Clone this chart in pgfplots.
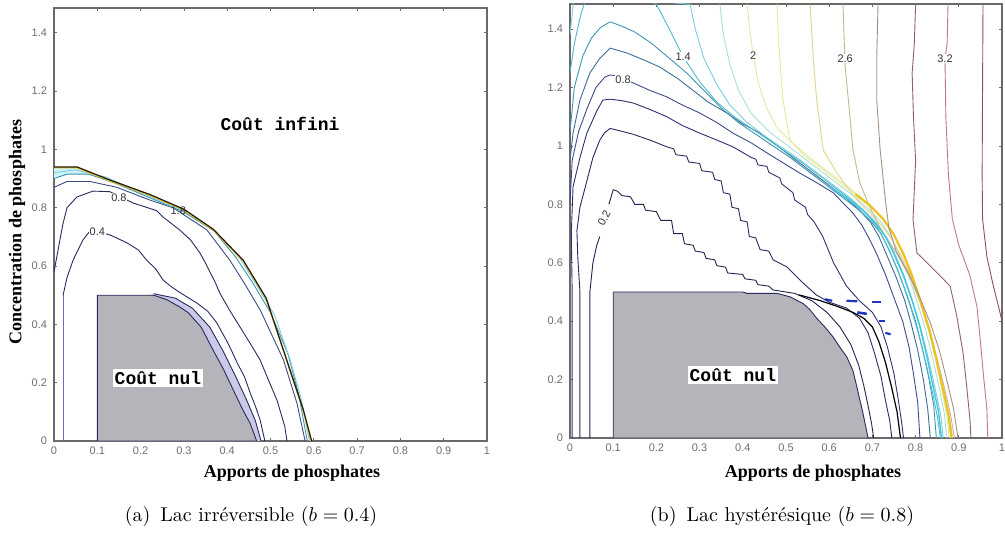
\documentclass[border=0pt]{standalone}
\usepackage{fontspec}
\usepackage{pgfplots}
\pgfplotsset{compat=1.18}
\newfontfamily\tickfont{Liberation Sans}
\newfontfamily\lblfont{Liberation Serif}
\newfontfamily\cfont{Liberation Mono}
\definecolor{axgray}{HTML}{6A6A6A}
\definecolor{tickgray}{HTML}{6E6E6E}
\definecolor{nulgray}{HTML}{B4B4BA}
\definecolor{lav}{HTML}{CACAE8}
\definecolor{peri}{HTML}{6A6AC8}
\definecolor{c02}{HTML}{22224E}
\definecolor{c04}{HTML}{2A2A5E}
\definecolor{c06}{HTML}{30306E}
\definecolor{c08}{HTML}{3A4C86}
\definecolor{c10}{HTML}{3C6C94}
\definecolor{c12}{HTML}{3C96B0}
\definecolor{c14}{HTML}{50B8CC}
\definecolor{c16}{HTML}{78D0DC}
\definecolor{c18}{HTML}{A8E0D8}
\definecolor{c20}{HTML}{D8ECA0}
\definecolor{c22}{HTML}{ECE890}
\definecolor{c24}{HTML}{E4D488}
\definecolor{c26}{HTML}{C8B494}
\definecolor{c28}{HTML}{A89080}
\definecolor{c30}{HTML}{8C6464}
\definecolor{c32}{HTML}{C07888}
\definecolor{c34}{HTML}{905058}
\definecolor{bandY}{HTML}{EEC020}
\definecolor{bandC}{HTML}{40C8E0}
\definecolor{jblue}{HTML}{2038C0}
\tikzset{clab/.style={font=\tickfont\fontsize{5.5}{6}\selectfont, text=black!80, fill=white, inner sep=0.3pt}}
\pgfplotsset{
  panel/.style={
    scale only axis,
    xmin=0, xmax=1, ymin=0,
    xtick={0,0.1,0.2,0.3,0.4,0.5,0.6,0.7,0.8,0.9,1},
    xticklabels={0,0.1,0.2,0.3,0.4,0.5,0.6,0.7,0.8,0.9,1},
    ytick={0,0.2,0.4,0.6,0.8,1,1.2,1.4},
    yticklabels={0,0.2,0.4,0.6,0.8,1,1.2,1.4},
    tick align=inside, xtick pos=both, ytick pos=both,
    major tick length=1.5pt,
    tick style={axgray, line width=0.4pt},
    axis line style={draw=axgray, line width=0.6pt},
    tick label style={font=\tickfont\fontsize{5.5}{6}\selectfont, text=tickgray},
    xticklabel style={yshift=0.5pt},
    clip mode=individual,
    every axis plot/.append style={line width=0.45pt, mark=none},
  },
}
\begin{document}
\begin{tikzpicture}
\useasboundingbox (0,0) rectangle (502.5pt,267pt);
% ================= LEFT PANEL =================
\begin{axis}[panel, at={(27pt,46.5pt)}, anchor=south west,
  width=216.5pt, height=216.5pt, ymax=1.485]
\addplot[fill=lav, draw=none] coordinates {(0.22,0.5)(0.23,0.505)(0.28,0.49)(0.32,0.455)(0.36,0.39)(0.39,0.31)(0.42,0.22)(0.445,0.14)(0.465,0.07)(0.478,0)(0.468,0)(0.453,0.06)(0.435,0.11)(0.414,0.175)(0.39,0.25)(0.368,0.31)(0.34,0.39)(0.31,0.44)(0.29,0.46)(0.26,0.485)(0.23,0.5)} -- cycle;
\addplot[c04] coordinates {(0.23,0.505)(0.28,0.49)(0.32,0.455)(0.36,0.39)(0.39,0.31)(0.42,0.22)(0.445,0.14)(0.465,0.07)(0.478,0)};
\addplot[fill=nulgray, draw=c04] coordinates {(0.1,0)(0.1,0.5)(0.23,0.5)(0.26,0.485)(0.29,0.46)(0.31,0.44)(0.34,0.39)(0.368,0.31)(0.39,0.25)(0.414,0.175)(0.435,0.11)(0.453,0.06)(0.468,0)} -- cycle;
\addplot[peri] coordinates {(0.021,0)(0.021,0.5)};
\addplot[c04] coordinates {(0.021,0.5)(0.03,0.56)(0.044,0.62)(0.067,0.69)(0.083,0.72)(0.105,0.715)(0.129,0.707)(0.168,0.68)(0.195,0.655)(0.214,0.62)(0.235,0.59)(0.252,0.552)(0.27,0.53)(0.29,0.51)(0.33,0.473)(0.355,0.445)(0.376,0.405)(0.40,0.34)(0.41,0.31)(0.423,0.268)(0.44,0.22)(0.453,0.165)(0.465,0.12)(0.476,0.072)(0.487,0)};
\addplot[c04] coordinates {(0,0.58)(0.01,0.66)(0.02,0.74)(0.03,0.80)(0.053,0.837)(0.09,0.857)(0.129,0.855)(0.183,0.816)(0.237,0.79)(0.252,0.768)(0.29,0.724)(0.315,0.69)(0.337,0.645)(0.35,0.61)(0.36,0.58)(0.372,0.545)(0.383,0.507)(0.405,0.45)(0.43,0.39)(0.455,0.33)(0.476,0.278)(0.495,0.21)(0.515,0.14)(0.533,0.05)(0.538,0)};
\addplot[c08] coordinates {(0,0.87)(0.03,0.89)(0.083,0.89)(0.145,0.87)(0.222,0.826)(0.275,0.80)(0.353,0.724)(0.406,0.62)(0.44,0.54)(0.476,0.45)(0.53,0.278)(0.561,0.13)(0.58,0)};
\addplot[fill=bandC!25, draw=none] coordinates {(0,0.94)(0.053,0.94)(0.129,0.895)(0.222,0.845)(0.30,0.795)(0.30,0.785)(0.22,0.835)(0.14,0.885)(0.08,0.915)(0.03,0.915)(0,0.90)} -- cycle;
\addplot[c12] coordinates {(0,0.90)(0.03,0.915)(0.08,0.915)(0.14,0.885)(0.22,0.835)(0.30,0.785)(0.37,0.72)(0.42,0.63)(0.46,0.54)(0.50,0.44)(0.54,0.30)(0.565,0.16)(0.585,0)};
\addplot[c16] coordinates {(0,0.92)(0.05,0.93)(0.12,0.905)(0.22,0.84)(0.30,0.79)(0.37,0.722)(0.43,0.625)(0.47,0.53)(0.51,0.43)(0.545,0.28)(0.57,0.15)(0.59,0)};
\addplot[bandY, line width=0.6pt] coordinates {(0,0.937)(0.053,0.937)(0.129,0.892)(0.222,0.842)(0.30,0.792)(0.368,0.723)(0.437,0.617)(0.49,0.487)(0.545,0.241)(0.576,0.103)(0.593,0)};
\addplot[black!80!brown, line width=0.6pt] coordinates {(0,0.94)(0.053,0.94)(0.129,0.895)(0.222,0.845)(0.30,0.795)(0.368,0.726)(0.437,0.62)(0.49,0.49)(0.545,0.244)(0.576,0.106)(0.595,0)};
\node[clab] at (axis cs:0.10,0.717) {0.4};
\node[clab] at (axis cs:0.15,0.835) {0.8};
\node[clab, fill=none] at (axis cs:0.287,0.79) {1.8};
\node[font=\cfont\bfseries\fontsize{9}{10}\selectfont] at (axis cs:0.522,1.087) {Coût infini};
\node[font=\cfont\bfseries\fontsize{9}{10}\selectfont, fill=white, inner sep=1pt] at (axis cs:0.24,0.216) {Coût nul};
\end{axis}
% ================= RIGHT PANEL =================
\begin{axis}[panel, at={(285pt,48pt)}, anchor=south west,
  width=216pt, height=217pt, ymax=1.486]
\addplot[fill=nulgray, draw=c04] coordinates {(0.1,0)(0.1,0.5)(0.40,0.5)(0.41,0.495)(0.48,0.495)(0.51,0.483)(0.54,0.46)(0.555,0.44)(0.571,0.41)(0.59,0.38)(0.609,0.346)(0.625,0.31)(0.641,0.277)(0.655,0.23)(0.664,0.175)(0.671,0.13)(0.678,0.086)(0.683,0.05)(0.69,0)} -- cycle;
\addplot[c02] coordinates {(0.046,0)(0.046,0.5)(0.053,0.60)(0.062,0.66)(0.069,0.69)};
\addplot[c02] coordinates {(0.09,0.80)(0.1,0.85)(0.11,0.845)(0.12,0.83)(0.14,0.826)(0.15,0.80)(0.17,0.80)(0.175,0.78)(0.2,0.775)(0.21,0.745)(0.235,0.745)(0.24,0.70)(0.26,0.70)(0.265,0.665)(0.285,0.66)(0.29,0.64)(0.31,0.635)(0.315,0.615)(0.335,0.61)(0.34,0.59)(0.36,0.585)(0.365,0.565)(0.4,0.56)(0.405,0.545)(0.43,0.54)(0.435,0.525)(0.46,0.52)(0.47,0.507)(0.52,0.495)(0.56,0.47)(0.595,0.43)(0.625,0.38)(0.65,0.32)(0.668,0.25)(0.68,0.18)(0.69,0.11)(0.698,0.05)(0.703,0)};
\addplot[c04] coordinates {(0.023,0)(0.023,0.5)(0.018,0.62)(0.016,0.71)(0.023,0.79)(0.039,0.88)(0.053,0.96)(0.069,1.02)(0.08,1.045)(0.093,1.06)(0.12,1.05)(0.146,1.04)(0.185,1.02)(0.224,0.997)(0.24,0.99)(0.245,0.97)(0.27,0.965)(0.275,0.945)(0.3,0.94)(0.305,0.915)(0.33,0.91)(0.335,0.885)(0.35,0.88)(0.355,0.84)(0.37,0.835)(0.375,0.79)(0.39,0.785)(0.395,0.745)(0.41,0.74)(0.415,0.69)(0.43,0.685)(0.44,0.645)(0.46,0.64)(0.47,0.61)(0.502,0.586)(0.54,0.53)(0.57,0.49)(0.60,0.465)(0.64,0.445)(0.67,0.41)(0.69,0.36)(0.705,0.29)(0.72,0.21)(0.73,0.13)(0.74,0.06)(0.745,0)};
\addplot[c06] coordinates {(0.005,0)(0.005,0.5)(0.003,0.70)(0.007,0.86)(0.023,0.96)(0.039,1.044)(0.062,1.12)(0.076,1.157)(0.093,1.16)(0.12,1.155)(0.146,1.147)(0.185,1.125)(0.224,1.10)(0.26,1.07)(0.30,1.044)(0.34,1.02)(0.377,0.997)(0.42,0.96)(0.43,0.955)(0.435,0.935)(0.456,0.93)(0.46,0.91)(0.486,0.89)(0.49,0.87)(0.516,0.84)(0.52,0.815)(0.545,0.79)(0.55,0.765)(0.565,0.74)(0.585,0.69)(0.61,0.60)(0.64,0.52)(0.67,0.47)(0.70,0.43)(0.72,0.38)(0.735,0.31)(0.75,0.22)(0.76,0.13)(0.768,0.05)(0.772,0)};
\addplot[black, line width=0.6pt] coordinates {(0.53,0.49)(0.58,0.47)(0.62,0.45)(0.655,0.43)(0.68,0.41)(0.70,0.38)(0.715,0.33)(0.73,0.26)(0.745,0.17)(0.757,0.09)(0.765,0)};
\addplot[jblue, line width=1.1pt] coordinates {(0.59,0.475)(0.607,0.47)};
\addplot[jblue, line width=1.1pt] coordinates {(0.64,0.47)(0.665,0.468)};
\addplot[jblue, line width=1.1pt] coordinates {(0.70,0.465)(0.72,0.465)};
\addplot[jblue, line width=1.3pt] coordinates {(0.665,0.43)(0.687,0.425)};
\addplot[jblue, line width=1.1pt] coordinates {(0.715,0.40)(0.73,0.40)};
\addplot[jblue, line width=1.1pt] coordinates {(0.73,0.36)(0.742,0.355)};
\addplot[c08] coordinates {(0,0.80)(0.005,0.95)(0.02,1.05)(0.04,1.13)(0.06,1.2)(0.08,1.235)(0.093,1.243)(0.11,1.24)(0.146,1.216)(0.185,1.19)(0.224,1.168)(0.26,1.14)(0.30,1.113)(0.34,1.08)(0.377,1.044)(0.42,1.01)(0.456,0.976)(0.49,0.945)(0.532,0.907)(0.57,0.875)(0.609,0.84)(0.635,0.80)(0.655,0.77)(0.675,0.73)(0.69,0.69)(0.71,0.63)(0.73,0.56)(0.75,0.48)(0.77,0.40)(0.785,0.31)(0.795,0.22)(0.805,0.12)(0.81,0)};
\addplot[c10] coordinates {(0,0.95)(0.007,1.044)(0.023,1.157)(0.046,1.25)(0.069,1.30)(0.093,1.335)(0.132,1.318)(0.17,1.295)(0.208,1.27)(0.25,1.23)(0.285,1.19)(0.32,1.15)(0.363,1.113)(0.40,1.075)(0.44,1.044)(0.48,1.0)(0.52,0.955)(0.56,0.91)(0.60,0.865)(0.64,0.82)(0.67,0.78)(0.695,0.74)(0.715,0.69)(0.735,0.62)(0.755,0.55)(0.775,0.47)(0.79,0.39)(0.805,0.30)(0.818,0.2)(0.828,0.1)(0.834,0)};
\addplot[c12] coordinates {(0,1.05)(0.01,1.20)(0.03,1.31)(0.05,1.37)(0.07,1.405)(0.093,1.425)(0.12,1.41)(0.15,1.39)(0.19,1.35)(0.23,1.30)(0.27,1.25)(0.31,1.19)(0.35,1.13)(0.39,1.08)(0.43,1.04)(0.47,1.0)(0.51,0.96)(0.55,0.915)(0.59,0.87)(0.63,0.825)(0.665,0.785)(0.695,0.745)(0.72,0.70)(0.74,0.64)(0.76,0.57)(0.78,0.49)(0.80,0.40)(0.815,0.31)(0.83,0.21)(0.842,0.11)(0.848,0)};
\addplot[c14] coordinates {(0,1.25)(0.01,1.35)(0.025,1.45)(0.04,1.52)(0.12,1.56)(0.2,1.485)(0.23,1.40)(0.262,1.305)(0.30,1.22)(0.34,1.15)(0.38,1.10)(0.42,1.06)(0.46,1.02)(0.50,0.98)(0.54,0.94)(0.58,0.895)(0.62,0.85)(0.655,0.81)(0.685,0.77)(0.71,0.725)(0.73,0.67)(0.75,0.605)(0.77,0.53)(0.79,0.44)(0.808,0.35)(0.825,0.25)(0.84,0.15)(0.852,0.06)(0.857,0)};
\addplot[c16] coordinates {(0,1.38)(0.005,1.45)(0.01,1.52)(0.278,1.485)(0.29,1.40)(0.31,1.30)(0.34,1.21)(0.37,1.14)(0.41,1.08)(0.45,1.035)(0.49,0.995)(0.53,0.955)(0.57,0.91)(0.61,0.865)(0.65,0.82)(0.68,0.78)(0.71,0.735)(0.735,0.68)(0.755,0.62)(0.775,0.55)(0.795,0.46)(0.813,0.37)(0.83,0.27)(0.845,0.17)(0.858,0.08)(0.864,0)};
\addplot[c18] coordinates {(0.347,1.485)(0.355,1.38)(0.37,1.28)(0.39,1.19)(0.42,1.11)(0.46,1.05)(0.50,1.005)(0.54,0.96)(0.58,0.915)(0.62,0.87)(0.66,0.825)(0.69,0.785)(0.72,0.74)(0.745,0.685)(0.765,0.62)(0.785,0.55)(0.805,0.46)(0.823,0.37)(0.84,0.27)(0.855,0.17)(0.867,0.08)(0.872,0)};
\addplot[c20] coordinates {(0.41,1.485)(0.416,1.40)(0.424,1.31)(0.435,1.22)(0.455,1.13)(0.48,1.06)(0.515,1.01)(0.55,0.965)(0.59,0.92)(0.63,0.875)(0.67,0.83)(0.70,0.79)(0.728,0.745)(0.752,0.69)(0.772,0.625)(0.792,0.55)(0.812,0.46)(0.83,0.37)(0.846,0.27)(0.86,0.17)(0.872,0.08)(0.878,0)};
\addplot[c22] coordinates {(0.479,1.485)(0.483,1.35)(0.493,1.157)(0.509,1.02)(0.54,0.97)(0.58,0.925)(0.62,0.88)(0.66,0.835)(0.695,0.795)(0.725,0.75)(0.75,0.695)(0.772,0.63)(0.792,0.555)(0.812,0.465)(0.832,0.37)(0.848,0.27)(0.863,0.17)(0.876,0.08)(0.882,0)};
\addplot[c24] coordinates {(0.556,1.485)(0.563,1.30)(0.571,1.157)(0.586,0.986)(0.618,0.907)(0.664,0.815)(0.694,0.77)(0.72,0.73)(0.745,0.68)(0.768,0.62)(0.79,0.55)(0.81,0.465)(0.83,0.37)(0.848,0.27)(0.864,0.17)(0.878,0.08)(0.886,0)};
\addplot[c26] coordinates {(0.632,1.485)(0.635,1.35)(0.637,1.27)(0.648,1.10)(0.655,0.986)(0.671,0.873)(0.694,0.79)(0.718,0.72)(0.74,0.67)(0.765,0.61)(0.79,0.54)(0.812,0.46)(0.832,0.37)(0.85,0.27)(0.867,0.17)(0.881,0.08)(0.89,0)};
\addplot[bandC, line width=0.7pt] coordinates {(0.60,0.862)(0.64,0.822)(0.675,0.782)(0.705,0.74)(0.73,0.69)(0.75,0.63)(0.772,0.555)(0.792,0.47)(0.81,0.38)(0.826,0.28)(0.84,0.18)(0.853,0.09)(0.86,0)};
\addplot[bandY, line width=1.1pt] coordinates {(0.66,0.835)(0.695,0.795)(0.725,0.75)(0.75,0.695)(0.772,0.63)(0.792,0.555)(0.812,0.465)(0.832,0.37)(0.848,0.27)(0.863,0.17)(0.876,0.08)(0.883,0)};
\addplot[c28] coordinates {(0.713,1.485)(0.71,1.30)(0.71,1.157)(0.718,0.986)(0.73,0.815)(0.738,0.72)(0.755,0.64)(0.785,0.56)(0.81,0.48)(0.835,0.39)(0.855,0.30)(0.872,0.2)(0.888,0.1)(0.898,0)};
\addplot[c30] coordinates {(0.80,1.485)(0.797,1.35)(0.792,1.25)(0.795,1.1)(0.80,0.95)(0.797,0.85)(0.794,0.747)(0.803,0.634)(0.84,0.58)(0.88,0.52)(0.895,0.42)(0.91,0.29)(0.918,0.18)(0.926,0.06)(0.928,0)};
\addplot[c32] coordinates {(0.875,1.485)(0.873,1.35)(0.868,1.3)(0.87,1.1)(0.876,0.9)(0.885,0.75)(0.90,0.66)(0.925,0.56)(0.942,0.45)(0.95,0.33)(0.958,0.2)(0.965,0.1)(0.967,0)};
\addplot[c34] coordinates {(0.956,1.485)(0.955,1.2)(0.954,0.9)(0.955,0.75)(0.965,0.62)(0.98,0.52)(0.992,0.45)(1.0,0.40)(1.01,0.3)};
\node[clab, rotate=62] at (axis cs:0.079,0.752) {0.2};
\node[clab] at (axis cs:0.123,1.226) {0.8};
\node[clab] at (axis cs:0.262,1.305) {1.4};
\node[clab] at (axis cs:0.424,1.31) {2};
\node[clab] at (axis cs:0.637,1.30) {2.6};
\node[clab] at (axis cs:0.868,1.30) {3.2};
\node[font=\cfont\bfseries\fontsize{9}{10}\selectfont, fill=white, inner sep=1pt] at (axis cs:0.377,0.216) {Coût nul};
\end{axis}
\node[font=\lblfont\bfseries\fontsize{9}{10}\selectfont] at (146pt,30.5pt) {Apports de phosphates};
\node[font=\lblfont\bfseries\fontsize{9}{10}\selectfont] at (406.5pt,30.5pt) {Apports de phosphates};
\node[font=\lblfont\bfseries\fontsize{9}{10}\selectfont, rotate=90] at (8.5pt,151pt) {Concentration de phosphates};
\node[font=\fontsize{10}{12}\selectfont] at (125.5pt,8.5pt) {(a)\enspace Lac irréversible ($b = 0.4$)};
\node[font=\fontsize{10}{12}\selectfont] at (391pt,8.5pt) {(b)\enspace Lac hystérésique ($b = 0.8$)};
\end{tikzpicture}
\end{document}
